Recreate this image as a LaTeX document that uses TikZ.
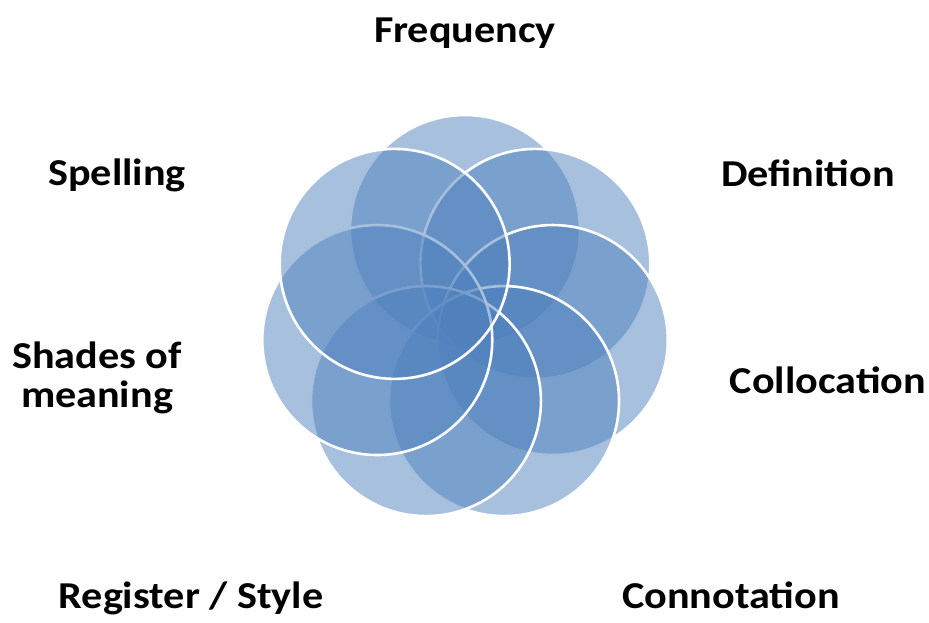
\documentclass[tikz,border=0pt]{standalone}
\usepackage{fontspec}
\setmainfont{Carlito}[FakeStretch=1.11]
\definecolor{petal}{HTML}{4F81BD}
\begin{document}
\begin{tikzpicture}[x=1pt,y=-1pt,
  petalcirc/.style={circle,minimum size=230pt,inner sep=0pt,
    fill=petal,fill opacity=0.5,draw=white,draw opacity=1,line width=2.6pt},
  lbl/.style={inner sep=0pt,anchor=base,font=\fontsize{38}{39}\selectfont\bfseries,
    text=black,align=center}]
\useasboundingbox (0,0) rectangle (929,622);
% seven overlapping petals, drawn clockwise starting at the top
\foreach \i in {1,...,7}{
  \pgfmathsetmacro{\ang}{90-(\i-1)*360/7}
  \node[petalcirc] (p\i) at ({465+90*cos(\ang)},{320-90*sin(\ang)}) {};
}
% labels around the ring
\node[lbl] (freq) at (465,42) {Frequency};
\node[lbl] (defn) at (808,186) {Definition};
\node[lbl] (coll) at (828,393) {Collocation};
\node[lbl] (conn) at (731,608) {Connotation};
\node[lbl] (reg)  at (191,608) {Register / Style};
\node[lbl] (shad) at (97,407) {Shades of\\meaning};
\node[lbl] (spel) at (117,185) {Spelling};
\end{tikzpicture}
\end{document}
